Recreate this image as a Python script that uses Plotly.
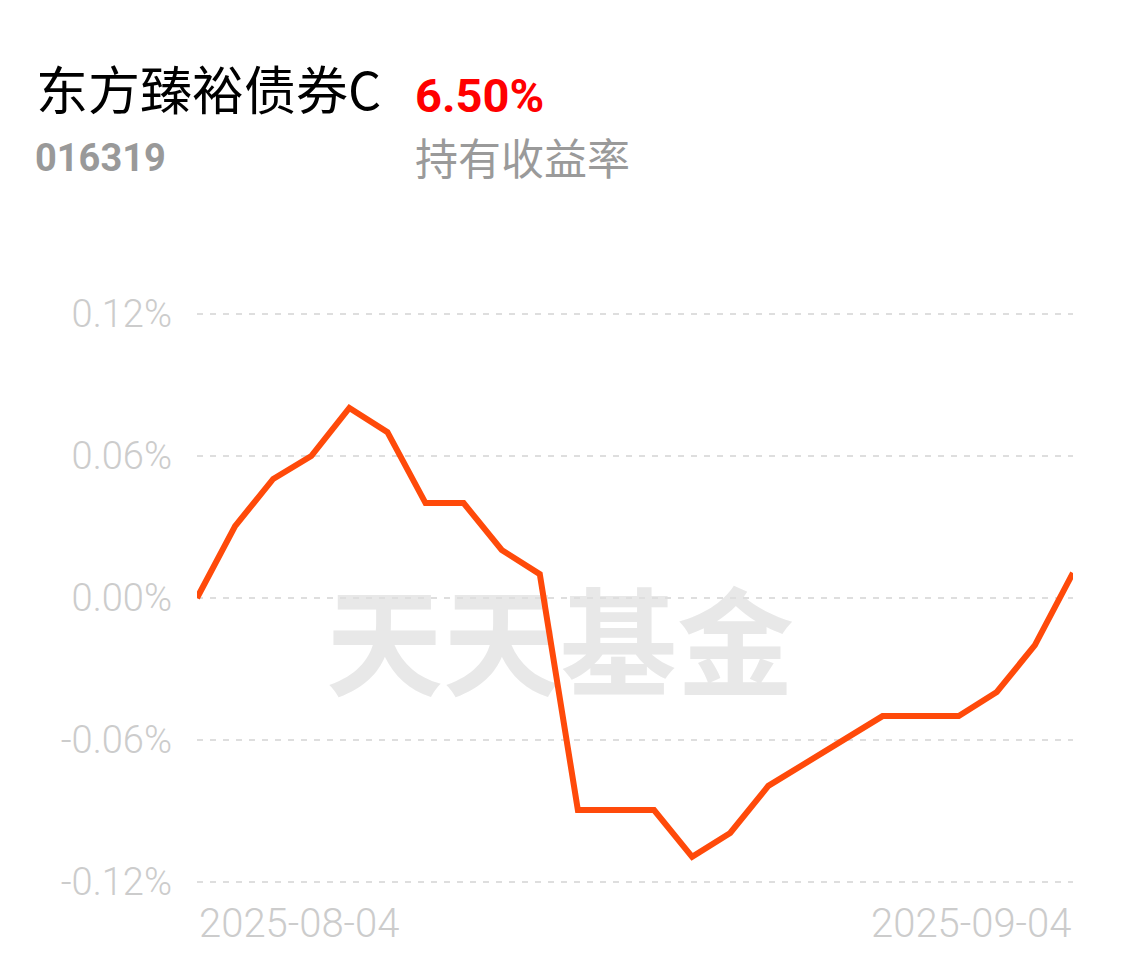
import plotly.graph_objects as go

dates = ["2025-08-04", "2025-08-05", "2025-08-06", "2025-08-07", "2025-08-08",
         "2025-08-11", "2025-08-12", "2025-08-13", "2025-08-14", "2025-08-15",
         "2025-08-18", "2025-08-19", "2025-08-20", "2025-08-21", "2025-08-22",
         "2025-08-25", "2025-08-26", "2025-08-27", "2025-08-28", "2025-08-29",
         "2025-09-01", "2025-09-02", "2025-09-03", "2025-09-04"]
returns = [0.0000, 0.0304, 0.0503, 0.0600, 0.0803, 0.0701, 0.0401, 0.0401,
           0.0203, 0.0101, -0.0896, -0.0896, -0.0896, -0.1094, -0.0993, -0.0794,
           -0.0697, -0.0596, -0.0499, -0.0499, -0.0499, -0.0397, -0.0199, 0.0106]
y_ticks = [-0.12, -0.06, 0.0, 0.06, 0.12]
y_tick_text = ["-0.12%", "-0.06%", "0.00%", "0.06%", "0.12%"]
fund_name = "东方臻裕债券C"
fund_code = "016319"
hold_return = "6.50%"
hold_label = "持有收益率"
watermark = "天天基金"

W, H = 1124, 967
L, R, T, B = 197, 51, 312, 83
PW, PH = W - L - R, H - T - B
Y_HALF = 0.12 * PH / (PH - 4)


def px(x):
    return (x - L) / PW


def py(y):
    return (H - B - y) / PH


CJK = "Noto Sans CJK SC"
NUM = "Roboto"

fig = go.Figure()
fig.add_trace(go.Scatter(
    x=dates, y=returns, mode="lines",
    line=dict(color="#FF4A0A", width=6),
    cliponaxis=False, hoverinfo="skip", showlegend=False,
))

fig.update_layout(
    width=W, height=H,
    margin=dict(l=L, r=R, t=T, b=B, autoexpand=False),
    paper_bgcolor="white", plot_bgcolor="white",
    showlegend=False,
    xaxis=dict(type="category", range=[0, len(dates) - 1], showgrid=False,
               zeroline=False, showline=False, showticklabels=False, ticks=""),
    yaxis=dict(range=[-Y_HALF, Y_HALF], tickvals=y_ticks, ticktext=y_tick_text,
               showgrid=True, gridcolor="#DEDEDE", gridwidth=2,
               griddash="6px,7px", zeroline=False, showline=False, ticks="",
               tickfont=dict(family=NUM, size=38, color="#CCCCCC", weight=300),
               ticklabelstandoff=24),
    shapes=[dict(type="rect", xref="paper", yref="paper",
                 x0=px(330), x1=px(790), y0=py(710), y1=py(600),
                 line=dict(width=0), fillcolor="rgba(0,0,0,0)", layer="below",
                 label=dict(text=watermark, textposition="middle center",
                            font=dict(family=CJK, size=117, color="#E8E8E8",
                                      weight="bold")))],
)

annos = [
    dict(text=fund_name, x=px(34), y=py(88), xanchor="left", yanchor="middle",
         font=dict(family=CJK, size=52, color="#000000")),
    dict(text=hold_return, x=px(413), y=py(95), xanchor="left", yanchor="middle",
         font=dict(family=NUM, size=47, color="#FF0000", weight="bold")),
    dict(text=fund_code, x=px(33), y=py(158), xanchor="left", yanchor="middle",
         font=dict(family=NUM, size=38, color="#999999", weight="bold")),
    dict(text=hold_label, x=px(413), y=py(156), xanchor="left", yanchor="middle",
         font=dict(family=CJK, size=43, color="#9A9A9A")),
    dict(text=dates[0], x=px(197), y=py(923), xanchor="left", yanchor="middle",
         font=dict(family=NUM, size=40, color="#CCCCCC", weight=300)),
    dict(text=dates[-1], x=px(1073), y=py(923), xanchor="right", yanchor="middle",
         font=dict(family=NUM, size=40, color="#CCCCCC", weight=300)),
]
for a in annos:
    a.update(xref="paper", yref="paper", showarrow=False)
    fig.add_annotation(**a)

fig.write_html("out.html", config={"displayModeBar": False},
               post_script="document.body.style.margin='0';")
